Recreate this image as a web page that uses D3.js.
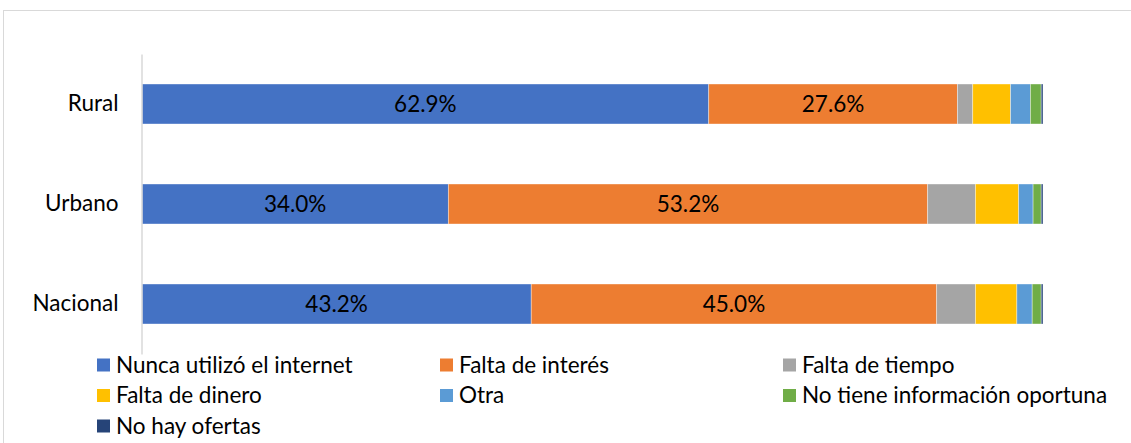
<!DOCTYPE html>
<html>
<head>
<meta charset="utf-8">
<script src="https://cdn.jsdelivr.net/npm/d3@7"></script>
<style>
  body { margin: 0; background: #fff; }
  svg { display: block; font-family: Lato, "Open Sans", sans-serif; }
</style>
</head>
<body>
<div id="chart"></div>
<script>
const categories = ["Rural", "Urbano", "Nacional"];
const seriesNames = ["Nunca utilizó el internet", "Falta de interés", "Falta de tiempo",
    "Falta de dinero", "Otra", "No tiene información oportuna", "No hay ofertas"];
const seriesColors = ["#4472C4", "#ED7D31", "#A5A5A5", "#FFC000", "#5B9BD5", "#70AD47", "#264478"];

// values in %, order: Rural, Urbano, Nacional
const nuncaUtilizo = [62.9, 34.0, 43.2];
const faltaInteres = [27.6, 53.2, 45.0];
const faltaTiempo = [1.7, 5.3, 4.3];
const faltaDinero = [4.2, 4.8, 4.6];
const otra = [2.2, 1.6, 1.7];
const noInformacion = [1.2, 0.9, 1.0];
const noOfertas = [0.2, 0.2, 0.2];

const seriesValues = [nuncaUtilizo, faltaInteres, faltaTiempo, faltaDinero, otra, noInformacion, noOfertas];
const labelledSeries = [0, 1];

const width = 1131, height = 443;
const plot = {left: 142, right: 1043, top: 54, bottom: 354};
const fontSize = 22.5;

const svg = d3.select("#chart").append("svg")
    .attr("width", width)
    .attr("height", height);

// chart frame
svg.append("rect")
    .attr("x", 3.5).attr("y", 10.5)
    .attr("width", width + 10).attr("height", height + 10)
    .attr("fill", "none")
    .attr("stroke", "#d9d9d9")
    .attr("stroke-width", 1);

const rows = categories.map((c, i) => {
    const row = {category: c};
    seriesNames.forEach((s, j) => row[s] = seriesValues[j][i]);
    return row;
});

const stacked = d3.stack().keys(seriesNames)(rows);

const x = d3.scaleLinear()
    .domain([0, 100])
    .range([plot.left, plot.right]);

const y = d3.scaleBand()
    .domain(categories)
    .range([plot.top, plot.bottom])
    .paddingInner(0.6)
    .paddingOuter(0.3);

const layers = svg.append("g")
    .selectAll("g")
    .data(stacked)
    .join("g")
    .attr("fill", (d, i) => seriesColors[i]);

layers.selectAll("rect")
    .data(d => d)
    .join("rect")
    .attr("x", d => x(d[0]))
    .attr("y", d => y(d.data.category))
    .attr("width", d => x(d[1]) - x(d[0]))
    .attr("height", y.bandwidth())
    .attr("stroke", "#fff")
    .attr("stroke-opacity", 0.5)
    .attr("stroke-width", 0.75);

// data labels, only on the two big series
svg.append("g")
    .selectAll("g")
    .data(stacked.filter((d, i) => labelledSeries.includes(i)))
    .join("g")
    .selectAll("text")
    .data(d => d)
    .join("text")
    .attr("x", d => (x(d[0]) + x(d[1])) / 2)
    .attr("y", d => y(d.data.category) + y.bandwidth() / 2)
    .attr("dy", "0.35em")
    .attr("text-anchor", "middle")
    .attr("font-size", fontSize)
    .attr("fill", "#000")
    .text(d => (d[1] - d[0]).toFixed(1) + "%");

const yAxis = d3.axisLeft(y)
    .tickSize(0)
    .tickSizeOuter(0)
    .tickPadding(23);

const axisG = svg.append("g")
    .attr("transform", `translate(${plot.left - 0.5}, 0)`)
    .call(yAxis);
axisG.select(".domain")
    .attr("stroke", "#d9d9d9")
    .attr("stroke-width", 1.5);
axisG.selectAll(".tick text")
    .attr("font-size", fontSize)
    .attr("font-family", "Lato, sans-serif")
    .attr("fill", "#000");

// legend, 3 columns
const legendCols = [97, 440, 783];
const legendRows = [365, 395.5, 426];
const legend = svg.append("g")
    .selectAll("g")
    .data(seriesNames)
    .join("g")
    .attr("transform", (d, i) => `translate(${legendCols[i % 3]}, ${legendRows[Math.floor(i / 3)]})`);

legend.append("rect")
    .attr("x", 0).attr("y", -6.5)
    .attr("width", 13).attr("height", 13)
    .attr("fill", (d, i) => seriesColors[i]);

legend.append("text")
    .attr("x", 19)
    .attr("dy", "0.35em")
    .attr("font-size", fontSize)
    .attr("fill", "#000")
    .text(d => d);
</script>
</body>
</html>
